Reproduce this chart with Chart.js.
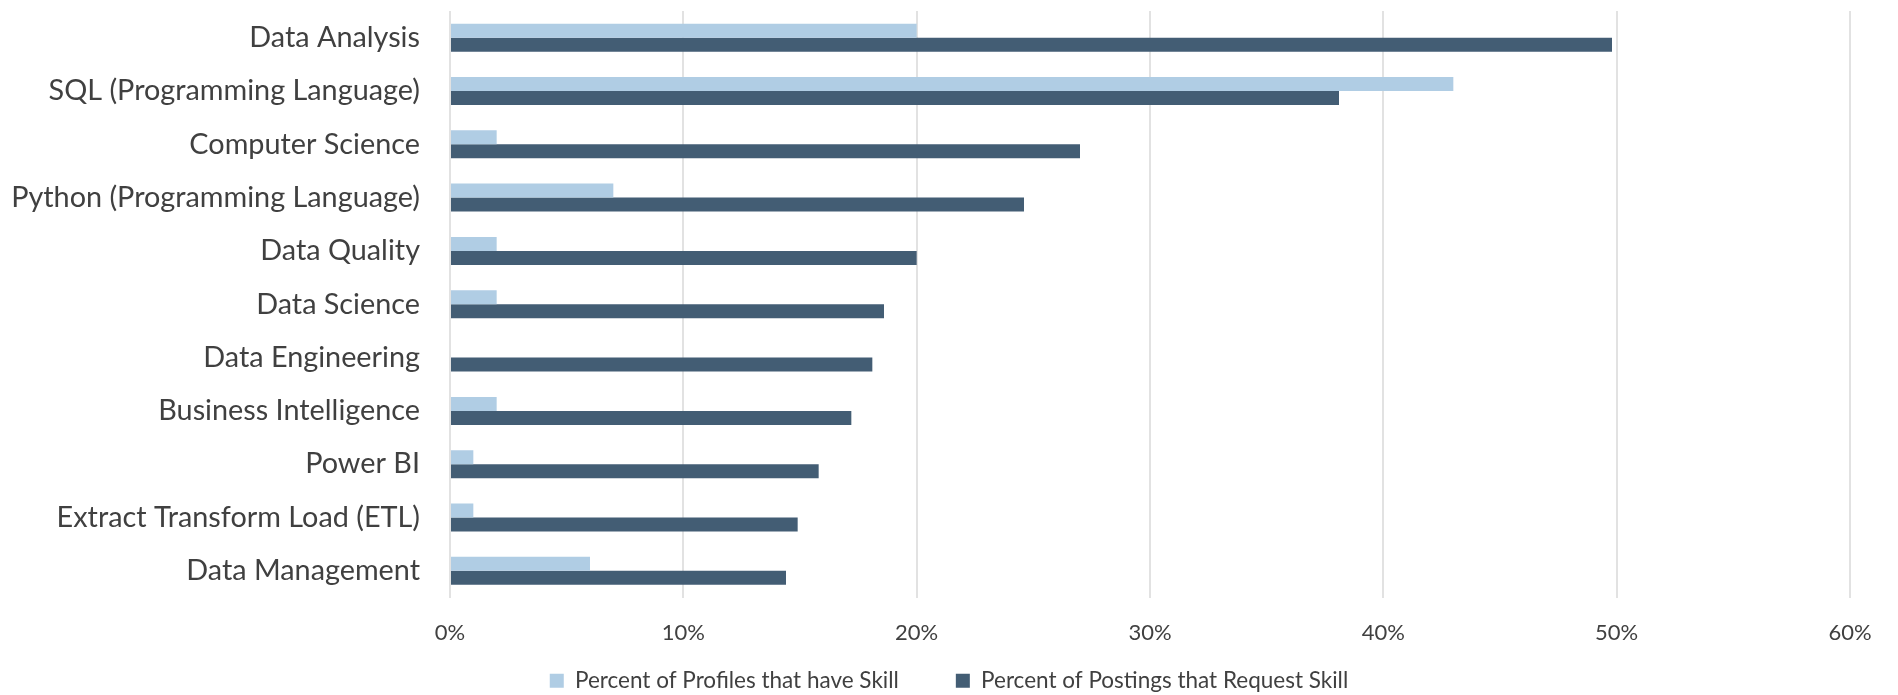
<!DOCTYPE html>
<html>
<head>
<meta charset="utf-8">
<script src="https://cdn.jsdelivr.net/npm/chart.js@4"></script>
<style>
  html, body { margin: 0; padding: 0; background: #fff; }
  #wrap { width: 1898px; height: 695px; }
</style>
</head>
<body>
<div id="wrap"><canvas id="skillChart" width="1898" height="695"></canvas></div>
<script>
// ******************* data

let skills = [
  'Data Analysis',
  'SQL (Programming Language)',
  'Computer Science',
  'Python (Programming Language)',
  'Data Quality',
  'Data Science',
  'Data Engineering',
  'Business Intelligence',
  'Power BI',
  'Extract Transform Load (ETL)',
  'Data Management'
];

// percent values
let profilesHaveSkill = [20, 43, 2, 7, 2, 2, 0, 2, 1, 1, 6];
let postingsRequestSkill = [49.8, 38.1, 27, 24.6, 20, 18.6, 18.1, 17.2, 15.8, 14.9, 14.4];

let xMax = 60;
let xStep = 10;

let seriesNames = ['Percent of Profiles that have Skill', 'Percent of Postings that Request Skill'];

// ******************* chart

let textColor = '#404040';
let fontFamily = 'Lato, "Open Sans", sans-serif';

let ctx = document.getElementById('skillChart');

// legend needs wide gaps between items but should sit close under the axis,
// so move it after layout and center it on the whole canvas
let legendPlace = {
  id: 'legendPlace',
  afterLayout(chart){
    let lg = chart.legend;
    lg.left = 0;
    lg.right = chart.width;
    lg.top = chart.chartArea.bottom + 15;
  }
};

let chartObj = {
  type: 'bar',
  data: {
    labels: skills,
    datasets: [{
      label: seriesNames[0],
      data: profilesHaveSkill,
      backgroundColor: '#b0cde4',
      borderWidth: 0
    },
    {
      label: seriesNames[1],
      data: postingsRequestSkill,
      backgroundColor: '#435d74',
      borderWidth: 0
    }]
  },
  options: {
    indexAxis: 'y',
    responsive: false,
    animation: false,
    layout: {
      padding: { top: 11, right: 48, bottom: -48, left: 0 }
    },
    datasets: {
      bar: {
        categoryPercentage: 0.525,
        barPercentage: 1.0
      }
    },
    scales: {
      x: {
        min: 0,
        max: xMax,
        afterFit: function(axis){
          axis.height = 56;
          axis.paddingLeft = 0;
          axis.paddingRight = 0;
        },
        ticks: {
          stepSize: xStep,
          padding: 22,
          color: textColor,
          font: { family: fontFamily, size: 22 },
          callback: v => v + '%'
        },
        grid: {
          color: '#e2e2e2',
          lineWidth: 2,
          drawTicks: false
        },
        border: { display: false }
      },
      y: {
        afterFit: function(axis){
          axis.width = 450;
          // don't let label overflow push the plot area down
          axis.paddingTop = 0;
          axis.paddingBottom = 0;
        },
        grid: { display: false, drawTicks: false },
        border: { display: false },
        ticks: {
          padding: 30,
          color: textColor,
          font: { family: fontFamily, size: 28.8 }
        }
      }
    },
    plugins: {
      legend: {
        position: 'bottom',
        labels: {
          boxWidth: 14,
          boxHeight: 14,
          padding: 57,
          color: textColor,
          font: { family: fontFamily, size: 22.5 }
        }
      },
      tooltip: { enabled: false }
    }
  },
  plugins: [legendPlace]
};

new Chart(ctx, chartObj);
</script>
</body>
</html>
